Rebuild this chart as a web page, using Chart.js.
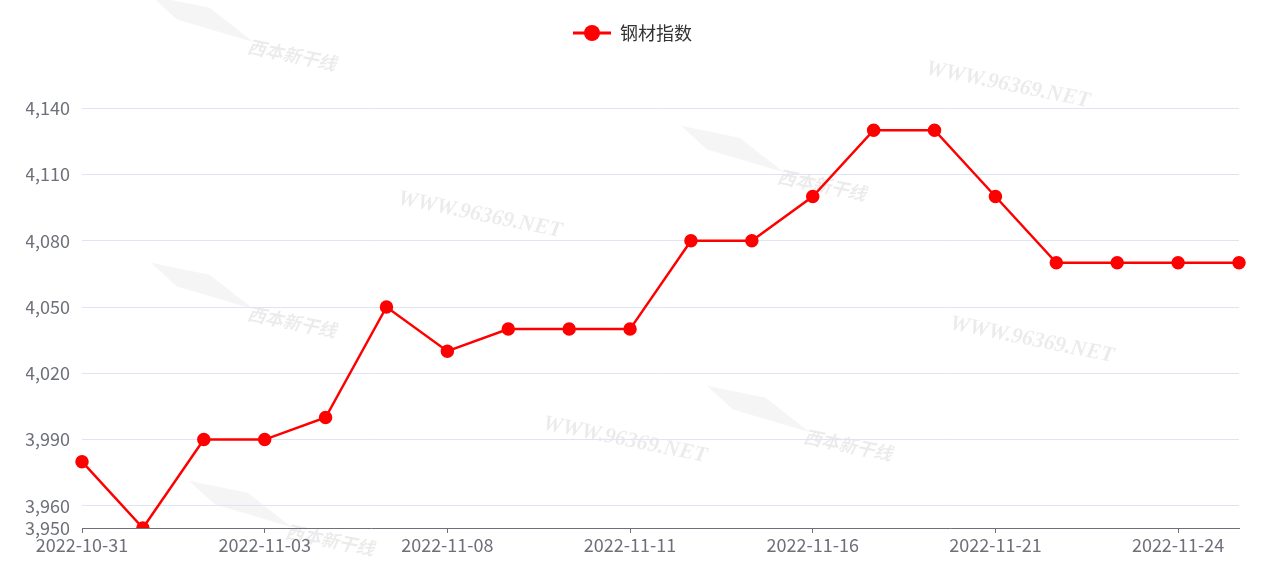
<!DOCTYPE html>
<html>
<head>
<meta charset="utf-8">
<script src="https://cdn.jsdelivr.net/npm/chart.js@4"></script>
<style>
  html, body { margin: 0; padding: 0; background: #fff; }
  #wrap { width: 1274px; height: 564px; }
</style>
</head>
<body>
<div id="wrap"><canvas id="ch1" width="1274" height="564"></canvas></div>
<script>
// dates (trading days) and steel index values
var dates = ['2022-10-31','2022-11-01','2022-11-02','2022-11-03','2022-11-04','2022-11-07','2022-11-08','2022-11-09','2022-11-10','2022-11-11',
             '2022-11-14','2022-11-15','2022-11-16','2022-11-17','2022-11-18','2022-11-21','2022-11-22','2022-11-23','2022-11-24','2022-11-25'];
var steelIndex = [3980, 3950, 3990, 3990, 4000, 4050, 4030, 4040, 4040, 4040,
                  4080, 4080, 4100, 4130, 4130, 4100, 4070, 4070, 4070, 4070];
var yTicks = [3950, 3960, 3990, 4020, 4050, 4080, 4110, 4140];
var seriesName = '钢材指数';

var red = '#ff0000';
var font = "'Microsoft YaHei', 'Noto Sans CJK SC', sans-serif";

// legend icon: line with a dot in the middle
var icon = document.createElement('canvas');
icon.width = 38; icon.height = 18;
(function(){
  var c = icon.getContext('2d');
  c.strokeStyle = red; c.lineWidth = 3;
  c.beginPath(); c.moveTo(0, 9); c.lineTo(38, 9); c.stroke();
  c.fillStyle = red;
  c.beginPath(); c.arc(19, 9, 8, 0, Math.PI * 2); c.fill();
})();

// faint watermarks behind the chart
var watermark = {
  id: 'watermark',
  beforeDraw: function(chart){
    var c = chart.ctx;
    var www = [[480, 215], [1008, 85], [1032, 340], [625, 440]];
    var logo = [[292, 55], [822, 185], [292, 322], [848, 445], [330, 540]];
    c.save();
    c.font = "italic bold 22px 'Liberation Serif', serif";
    c.textAlign = 'center'; c.textBaseline = 'middle';
    c.fillStyle = 'rgba(0,0,0,0.08)';
    www.forEach(function(p){
      c.save(); c.translate(p[0], p[1]); c.rotate(0.2); c.fillText('WWW.96369.NET', 0, 0); c.restore();
    });
    c.font = "italic bold 18px 'Noto Sans CJK SC', sans-serif";
    logo.forEach(function(p){
      c.save(); c.translate(p[0], p[1]); c.rotate(0.2);
      c.fillStyle = 'rgba(0,0,0,0.08)';
      c.fillText('西本新干线', 0, 0);
      c.fillStyle = 'rgba(0,0,0,0.04)';
      c.beginPath(); c.moveTo(-150, -30); c.lineTo(-90, -30); c.lineTo(-40, -5); c.lineTo(-120, -12); c.closePath(); c.fill();
      c.restore();
    });
    c.restore();
  }
};

// push the plot area down below the legend
var legendSpace = {
  id: 'legendSpace',
  beforeInit: function(chart){
    var fit = chart.legend.fit;
    chart.legend.fit = function(){
      fit.bind(chart.legend)();
      this.height = 86;
    };
  }
};

var chart = new Chart(document.getElementById('ch1').getContext('2d'), {
  type: 'line',
  data: {
    labels: dates,
    datasets: [{
      label: seriesName,
      data: steelIndex,
      borderColor: red,
      backgroundColor: red,
      borderWidth: 2.5,
      pointRadius: 5.5,
      pointHoverRadius: 6,
      pointBackgroundColor: red,
      pointBorderColor: red,
      tension: 0
    }]
  },
  plugins: [watermark, legendSpace],
  options: {
    responsive: false,
    animation: false,
    layout: { padding: { left: 26, right: 35, top: 0, bottom: 0 } },
    plugins: {
      tooltip: { enabled: false },
      legend: {
        position: 'top',
        labels: {
          usePointStyle: true,
          pointStyle: icon,
          pointStyleWidth: 38,
          boxHeight: 18,
          padding: 24,
          color: '#333',
          font: { family: font, size: 18 }
        }
      }
    },
    scales: {
      x: {
        offset: false,
        border: { display: true, color: '#6e7079', width: 1 },
        grid: {
          drawOnChartArea: false,
          drawTicks: true,
          tickLength: 5,
          color: function(ctx){ return (ctx.index % 3 === 0) ? '#6e7079' : 'rgba(0,0,0,0)'; }
        },
        ticks: {
          autoSkip: false,
          maxRotation: 0,
          padding: 1,
          color: '#6e7079',
          font: { family: font, size: 18 },
          callback: function(v, i){ return i % 3 === 0 ? dates[i] : ''; }
        },
        afterFit: function(s){ s.height = 36; }
      },
      y: {
        min: 3950,
        max: 4150,
        border: { display: false },
        grid: {
          color: function(ctx){ return ctx.tick && ctx.tick.value === 3950 ? 'rgba(0,0,0,0)' : '#dfe4f2'; },
          drawTicks: false
        },
        afterBuildTicks: function(s){
          s.ticks = yTicks.map(function(v){ return { value: v }; });
        },
        ticks: {
          padding: 12,
          color: '#6e7079',
          font: { family: font, size: 18 },
          callback: function(v){ return v.toLocaleString('en-US'); }
        },
        afterFit: function(s){ s.width = 56; }
      }
    }
  }
});
</script>
</body>
</html>
